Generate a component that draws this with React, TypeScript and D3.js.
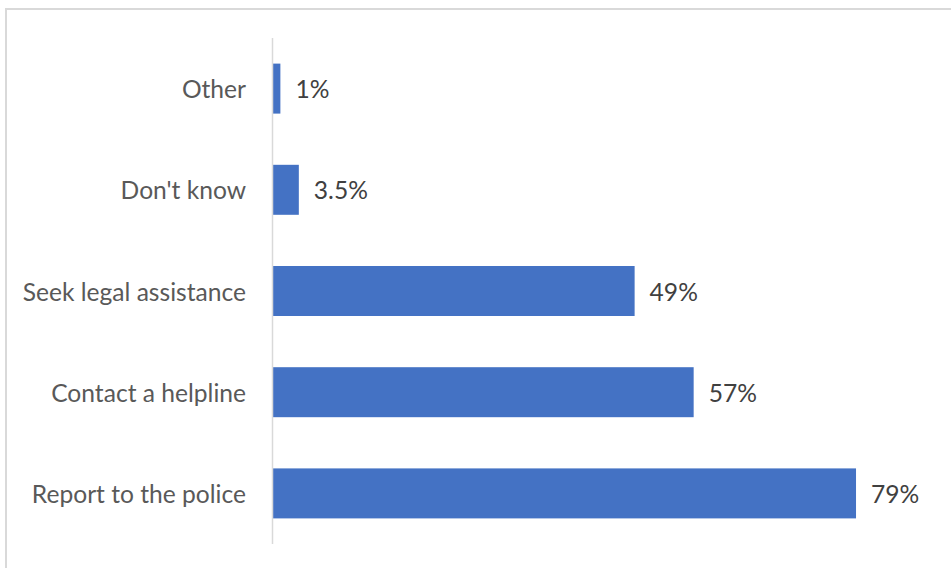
import React from "react";
import * as d3 from "d3";

const categories = ["Other", "Don't know", "Seek legal assistance", "Contact a helpline", "Report to the police"];
const values = [1, 3.5, 49, 57, 79];
const valueLabels = ["1%", "3.5%", "49%", "57%", "79%"];

const W = 951;
const H = 568;
const FONT = "Lato, 'Noto Sans', sans-serif";

export default function App() {
  const x = d3.scaleLinear().domain([0, 100]).range([273, 273 + 738]);
  const y = d3
    .scaleBand<string>()
    .domain(categories)
    .range([38, 544])
    .paddingInner(0.506)
    .paddingOuter(0.253);

  return (
    <svg
      width={W}
      height={H}
      style={{ position: "absolute", left: 0, top: 0, background: "#fff" }}
      fontFamily={FONT}
    >
      <rect x={6} y={9} width={W + 20} height={H + 20} fill="#fff" stroke="#d9d9d9" strokeWidth={2} />
      {categories.map((c, i) => (
        <g key={c}>
          <rect
            x={x(0)}
            y={y(c)!}
            width={x(values[i]) - x(0)}
            height={y.bandwidth()}
            fill="#4472C4"
          />
          <text
            x={246}
            y={y(c)! + y.bandwidth() / 2}
            textAnchor="end"
            dominantBaseline="central"
            fontSize={24.6}
            fill="#595959"
          >
            {c}
          </text>
          <text
            x={x(values[i]) + 15}
            y={y(c)! + y.bandwidth() / 2}
            dominantBaseline="central"
            fontSize={24.6}
            fill="#404040"
          >
            {valueLabels[i]}
          </text>
        </g>
      ))}
      <line x1={272.5} x2={272.5} y1={38} y2={544} stroke="#d9d9d9" strokeWidth={1.5} />
    </svg>
  );
}
